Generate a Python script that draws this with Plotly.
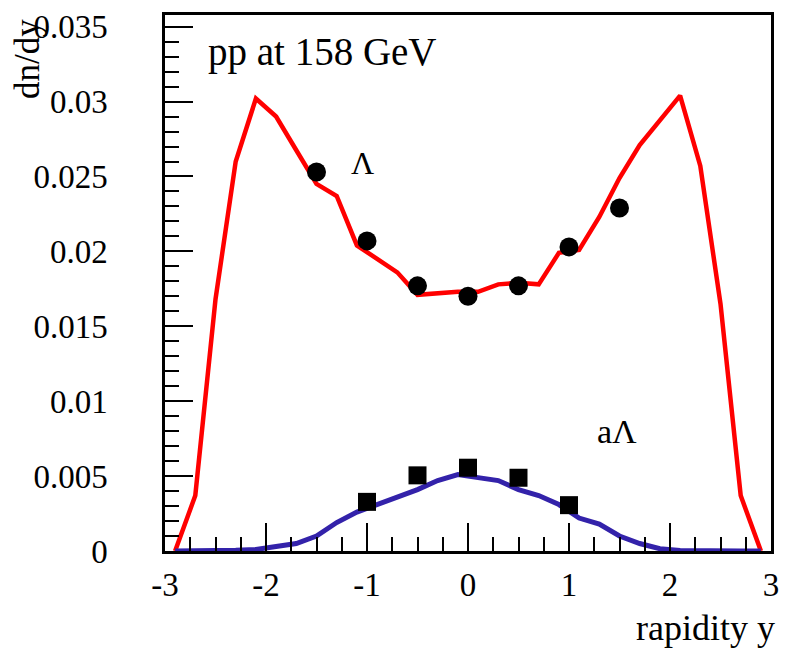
import plotly.graph_objects as go

# model curves (bin centres, width 0.2)
y_bins = [-2.9, -2.7, -2.5, -2.3, -2.1, -1.9, -1.7, -1.5, -1.3, -1.1, -0.9, -0.7, -0.5, -0.3, -0.1,
          0.1, 0.3, 0.5, 0.7, 0.9, 1.1, 1.3, 1.5, 1.7, 1.9, 2.1, 2.3, 2.5, 2.7, 2.9]
lambda_model = [0.0, 0.0037, 0.0168, 0.0260, 0.0302, 0.0290, 0.02675, 0.0245, 0.0237, 0.0204, 0.0195,
                0.0186, 0.0171, 0.0172, 0.0173, 0.0173, 0.0178, 0.0179, 0.0178, 0.0199, 0.0201,
                0.0223, 0.0249, 0.0271, 0.0288, 0.0304, 0.0257, 0.0165, 0.0037, 0.0]
alambda_model = [0.0, 0.0, 0.00002, 0.00005, 0.0001, 0.0003, 0.0005, 0.0010, 0.0019, 0.0026, 0.0031,
                 0.0036, 0.0041, 0.0047, 0.0051, 0.0049, 0.0047, 0.0041, 0.0037, 0.0031, 0.0022,
                 0.0018, 0.0010, 0.0005, 0.00015, 0.00003, 0.0, 0.0, 0.0, 0.0]

# data points
lambda_x = [-1.5, -1.0, -0.5, 0.0, 0.5, 1.0, 1.5]
lambda_y = [0.0253, 0.0207, 0.0177, 0.0170, 0.0177, 0.0203, 0.0229]
alambda_x = [-1.0, -0.5, 0.0, 0.5, 1.0]
alambda_y = [0.00328, 0.00505, 0.00556, 0.00489, 0.00306]

x_ticks = [-3, -2, -1, 0, 1, 2, 3]
x_ticklabels = ["-3", "-2", "-1", "0", "1", "2", "3"]
y_ticks = [0, 0.005, 0.01, 0.015, 0.02, 0.025, 0.03, 0.035]
y_ticklabels = ["0", "0.005", "0.01", "0.015", "0.02", "0.025", "0.03", "0.035"]

FONT = "Liberation Serif, Times New Roman, serif"

fig = go.Figure()
fig.add_trace(go.Scatter(x=y_bins, y=lambda_model, mode="lines",
                         line=dict(color="#ff0000", width=4.5), showlegend=False))
fig.add_trace(go.Scatter(x=y_bins, y=alambda_model, mode="lines",
                         line=dict(color="#3322aa", width=5), showlegend=False))
fig.add_trace(go.Scatter(x=lambda_x, y=lambda_y, mode="markers",
                         marker=dict(symbol="circle", size=19, color="black"), showlegend=False))
fig.add_trace(go.Scatter(x=alambda_x, y=alambda_y, mode="markers",
                         marker=dict(symbol="square", size=18, color="black"), showlegend=False))

fig.update_layout(
    width=788, height=648,
    margin=dict(l=165, r=9, t=11, b=97),
    paper_bgcolor="white", plot_bgcolor="white",
    font=dict(family=FONT, color="black", size=33),
    xaxis=dict(range=[-3, 3], tickvals=x_ticks, ticktext=x_ticklabels,
               ticks="inside", ticklen=28, tickwidth=1.5, tickcolor="black",
               minor=dict(ticks="inside", ticklen=14, dtick=0.25, tickwidth=1.5, tickcolor="black"),
               showline=True, linewidth=2.5, linecolor="black", mirror=True,
               showgrid=False, zeroline=False, ticklabelstandoff=3,
               tickfont=dict(family=FONT, size=33)),
    yaxis=dict(range=[0, 0.03578], tickvals=y_ticks, ticktext=y_ticklabels,
               ticks="inside", ticklen=28, tickwidth=1.5, tickcolor="black",
               minor=dict(ticks="inside", ticklen=14, dtick=0.001, tickwidth=1.5, tickcolor="black"),
               showline=True, linewidth=2.5, linecolor="black", mirror=True,
               showgrid=False, zeroline=False, ticklabelstandoff=48,
               tickfont=dict(family=FONT, size=33)),
)

fig.add_annotation(x=-2.592, y=0.0333, xref="x", yref="y", text="pp at 158 GeV",
                   showarrow=False, xanchor="left", yanchor="middle",
                   font=dict(family=FONT, size=39))
fig.add_annotation(x=-1.045, y=0.0259, xref="x", yref="y", text="Λ",
                   showarrow=False, xanchor="center", yanchor="middle",
                   font=dict(family=FONT, size=32))
fig.add_annotation(x=1.48, y=0.00795, xref="x", yref="y", text="aΛ",
                   showarrow=False, xanchor="center", yanchor="middle",
                   font=dict(family=FONT, size=34))
fig.add_annotation(x=1.01, y=-0.144, xref="paper", yref="paper", text="rapidity y",
                   showarrow=False, xanchor="right", yanchor="middle",
                   font=dict(family=FONT, size=36))
fig.add_annotation(x=-0.228, y=0.996, xref="paper", yref="paper", text="dn/dy",
                   showarrow=False, xanchor="center", yanchor="top", textangle=-90,
                   font=dict(family=FONT, size=35))

fig.write_html("out.html")
